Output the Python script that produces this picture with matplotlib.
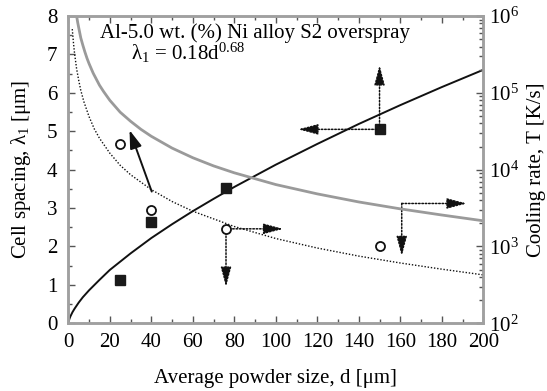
# Cell spacing and cooling rate vs. powder size, Al-5.0 wt.% Ni overspray
import matplotlib
matplotlib.use("Agg")
import matplotlib.pyplot as plt
from matplotlib.ticker import MultipleLocator, LogLocator, NullFormatter

plt.rcParams['font.family'] = ['Liberation Serif', 'DejaVu Serif']
plt.rcParams['mathtext.fontset'] = 'custom'
plt.rcParams['mathtext.rm'] = 'Liberation Serif'
plt.rcParams['mathtext.it'] = 'Liberation Serif:italic'
plt.rcParams['font.size'] = 15

# fitted cell spacing curve, lambda_1 [um] (left axis)
fit_d = [0, 0.5, 1, 2, 3, 5, 7, 10, 15, 20, 30, 40, 50, 60, 70, 80, 100, 120, 140,
         160, 180, 200]
fit_lam = [0, 0.11, 0.18, 0.29, 0.38, 0.54, 0.68, 0.86, 1.13, 1.39, 1.82, 2.22, 2.58,
           2.92, 3.24, 3.55, 4.13, 4.67, 5.19, 5.68, 6.15, 6.60]

# measured cell spacing (filled squares)
sq_d = [25, 40, 76, 150]
sq_lam = [1.12, 2.65, 3.52, 5.05]

# cooling rate curves [K/s] (right axis)
gray_d = [4, 4.5, 5, 6, 7, 8, 9, 10, 12, 15, 17, 20, 25, 30, 35, 40, 50, 60, 70, 80,
          100, 120, 140, 160, 180, 200]
gray_T = [1.0e6, 8.3e5, 7.08e5, 5.2e5, 4.17e5, 3.4e5, 2.82e5, 2.40e5, 1.80e5, 1.26e5,
          1.04e5, 8.0e4, 5.6e4, 4.27e4, 3.35e4, 2.72e4, 1.91e4, 1.43e4, 1.12e4, 9.1e3,
          6.4e3, 4.84e3, 3.8e3, 3.09e3, 2.57e3, 2.16e3]

dot_d = [1.9, 2.5, 3, 4, 5, 6, 7.5, 10, 12.5, 15, 20, 25, 30, 40, 50, 60, 80, 100, 120,
         140, 160, 180, 200]
dot_T = [6.76e5, 4.4e5, 3.27e5, 2.05e5, 1.46e5, 1.08e5, 7.67e4, 4.9e4, 3.4e4, 2.57e4,
         1.64e4, 1.14e4, 8.6e3, 5.5e3, 3.85e3, 2.88e3, 1.82e3, 1.27e3, 955, 750, 610,
         507, 427]

# measured cooling rates (open circles)
circ_d = [25, 40, 76, 150]
circ_T = [2.16e4, 2.99e3, 1.70e3, 1.01e3]

# arrows (start, end) in left-axis units
solid_arrows = [((40.2, 3.43), (29.5, 5.03))]
dotted_arrows = [
    ((77.6, 2.46), (103.6, 2.46)),
    ((76, 2.36), (76, 0.95)),
    ((150, 5.15), (150, 6.72)),
    ((148.6, 5.05), (110.8, 5.05)),
    ((160.7, 3.12), (192, 3.12)),
    ((160.7, 3.12), (160.7, 1.75)),
]

fig = plt.figure(figsize=(5.47, 3.91), dpi=100)
ax = fig.add_axes([0.1249, 0.1731, 0.7586, 0.7859])
ax2 = ax.twinx()

ax.plot(fit_d, fit_lam, color='#111111', lw=1.4)
ax.plot(sq_d, sq_lam, 's', color='#1a1a1a', ms=6.5)

ax2.plot(gray_d, gray_T, color='#9a9a9a', lw=2.0)
ax2.plot(dot_d, dot_T, color='#111111', lw=1.0, ls=(0, (1, 1.3)))
ax2.plot(circ_d, circ_T, 'o', mfc='white', mec='#111111', mew=1.3, ms=6.5)

for (x0, y0), (x1, y1) in solid_arrows:
    ax.annotate('', xy=(x1, y1), xytext=(x0, y0),
                arrowprops=dict(arrowstyle='-|>,head_length=11,head_width=3.6',
                                mutation_scale=1, color='#111111', lw=1.4,
                                shrinkA=0, shrinkB=0))
for (x0, y0), (x1, y1) in dotted_arrows:
    ax.annotate('', xy=(x1, y1), xytext=(x0, y0),
                arrowprops=dict(arrowstyle='-|>,head_length=12,head_width=3.2',
                                mutation_scale=1, color='#111111', lw=1.1,
                                ls=(0, (1, 1.2)), shrinkA=0, shrinkB=0))

ax.set_xlim(0, 200)
ax.set_ylim(0, 8)
ax2.set_yscale('log')
ax2.set_ylim(1e2, 1e6)

ax.xaxis.set_major_locator(MultipleLocator(20))
ax.xaxis.set_minor_locator(MultipleLocator(10))
ax.yaxis.set_major_locator(MultipleLocator(1))
ax.yaxis.set_minor_locator(MultipleLocator(0.5))
ax2.yaxis.set_major_locator(LogLocator(base=10))
ax2.yaxis.set_minor_locator(LogLocator(base=10, subs=range(2, 10)))
ax2.yaxis.set_minor_formatter(NullFormatter())

tick_col = '#555555'
ax.tick_params(axis='both', which='both', direction='in', color=tick_col,
               top=True, right=False, labelsize=15)
ax.tick_params(axis='x', pad=7)
ax.tick_params(axis='y', pad=8)
ax.tick_params(which='major', length=5, width=1)
ax.tick_params(which='minor', length=3, width=1)
ax2.tick_params(axis='y', which='both', direction='in', color=tick_col,
                labelsize=15, pad=4)
ax2.tick_params(which='major', length=5, width=1)
ax2.tick_params(which='minor', length=3, width=1)

for a in (ax, ax2):
    for s in a.spines.values():
        s.set_color('#a0a0a0')
        s.set_linewidth(1.8)

ax.set_xlabel('Average powder size, d [μm]', fontsize=15, labelpad=12)
ax.set_ylabel(r'Cell spacing, λ$_1$ [μm]', fontsize=15, labelpad=10)
ax2.set_ylabel('Cooling rate, T [K/s]', fontsize=15, labelpad=6)

ax.text(0.451, 0.945, 'Al-5.0 wt. (%) Ni alloy S2 overspray', transform=ax.transAxes,
        ha='center', va='center', fontsize=15)
ax.text(0.288, 0.88, r'λ$_1$ = 0.18d$^{0.68}$', transform=ax.transAxes,
        ha='center', va='center', fontsize=15)

fig.savefig('out.png', dpi=100)
